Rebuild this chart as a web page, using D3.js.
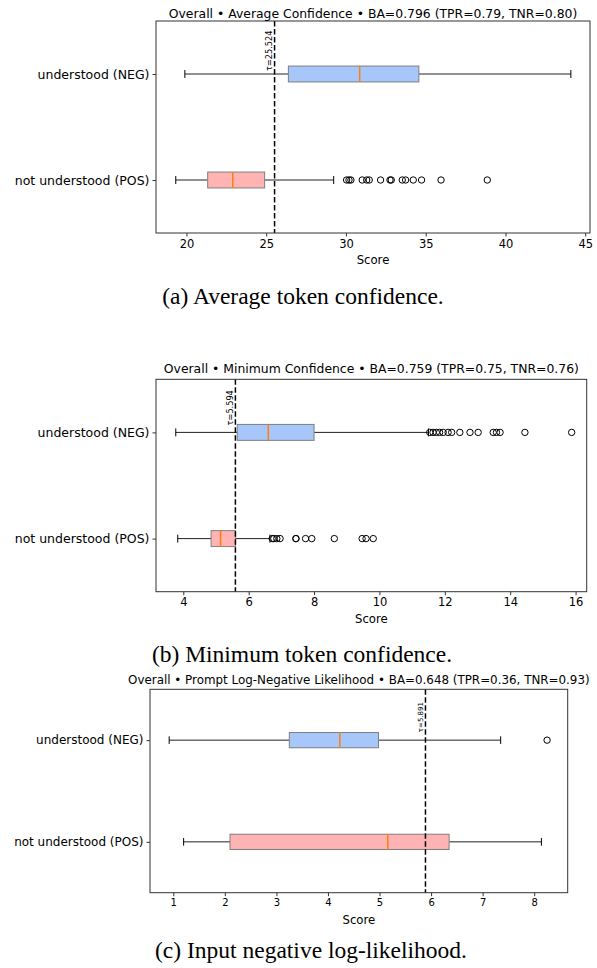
<!DOCTYPE html>
<html><head><meta charset="utf-8">
<script src="https://cdn.jsdelivr.net/npm/d3@7"></script>
<style>body{margin:0;background:#fff}svg{display:block}</style>
</head><body>
<svg id="chart" width="597" height="968"></svg>
<script>
// ---------- data ----------
const categories = ["understood (NEG)", "not understood (POS)"];
const titles = [
  "Overall • Average Confidence • BA=0.796 (TPR=0.79, TNR=0.80)",
  "Overall • Minimum Confidence • BA=0.759 (TPR=0.75, TNR=0.76)",
  "Overall • Prompt Log-Negative Likelihood • BA=0.648 (TPR=0.36, TNR=0.93)"
];
const captions = [
  "(a) Average token confidence.",
  "(b) Minimum token confidence.",
  "(c) Input negative log-likelihood."
];
const xLabel = "Score";

// stats: [whisker low, Q1, median, Q3, whisker high]
const avgNegStats = [19.9, 26.39, 30.86, 34.57, 44.1];
const avgPosStats = [19.33, 21.33, 22.9, 24.9, 29.23];
const avgNegOutliers = [];
const avgPosOutliers = [30.04, 30.19, 30.31, 31.02, 31.3, 31.46, 32.17, 32.76, 32.84, 33.53, 33.74, 34.22, 34.74, 35.96, 38.86];
const avgTau = 25.524;
const avgTicks = [20, 25, 30, 35, 40, 45];

const minNegStats = [3.77, 5.65, 6.6, 8.0, 11.5];
const minPosStats = [3.83, 4.85, 5.14, 5.6, 6.65];
const minNegOutliers = [11.54, 11.64, 11.74, 11.84, 11.95, 12.1, 12.21, 12.46, 12.77, 13.02, 13.48, 13.58, 13.69, 14.45, 15.88];
const minPosOutliers = [6.72, 6.77, 6.86, 6.96, 7.44, 7.45, 7.74, 7.93, 8.62, 9.47, 9.59, 9.81];
const minTau = 5.594;
const minTicks = [4, 6, 8, 10, 12, 14, 16];

const nllNegStats = [0.92, 3.25, 4.23, 4.98, 7.35];
const nllPosStats = [1.2, 2.1, 5.16, 6.35, 8.14];
const nllNegOutliers = [8.25];
const nllPosOutliers = [];
const nllTau = 5.891;
const nllTicks = [1, 2, 3, 4, 5, 6, 7, 8];

// ---------- layout ----------
const panels = [
  {title: titles[0], caption: captions[0], neg: avgNegStats, pos: avgPosStats, negOut: avgNegOutliers, posOut: avgPosOutliers, tau: avgTau, ticks: avgTicks,
   domain: [18.09, 45.30], frame: {l: 156, r: 590, t: 21, b: 233}, titleY: 17.5, titleFs: 12.4, capX: 303, capY: 304, tauOff: 3, tickFs: 11.5, tauFs: 8.2, yFs: 12.5},
  {title: titles[1], caption: captions[1], neg: minNegStats, pos: minPosStats, negOut: minNegOutliers, posOut: minPosOutliers, tau: minTau, ticks: minTicks,
   domain: [3.165, 16.34], frame: {l: 156, r: 586.7, t: 379.3, b: 591.7}, titleY: 373, titleFs: 12.4, capX: 302, capY: 662, tauOff: 7, tickFs: 11.5, tauFs: 8.2, yFs: 12.5},
  {title: titles[2], caption: captions[2], neg: nllNegStats, pos: nllPosStats, negOut: nllNegOutliers, posOut: nllPosOutliers, tau: nllTau, ticks: nllTicks,
   domain: [0.548, 8.65], frame: {l: 150, r: 567.7, t: 689.3, b: 892.7}, titleY: 684, titleFs: 11.9, capX: 311, capY: 958, tauOff: 8, tickFs: 10, tauFs: 7, yFs: 12}
];

const FONT = "DejaVu Sans, sans-serif";
const svg = d3.select("#chart");

panels.forEach(p => {
  const f = p.frame;
  const x = d3.scaleLinear().domain(p.domain).range([f.l, f.r]);
  const y = d3.scaleLinear().domain([0.5, 2.5]).range([f.b, f.t]);
  const g = svg.append("g");
  const rows = [
    {cat: categories[0], pos: 2, s: p.neg, out: p.negOut, fill: "#a7c7fb"},
    {cat: categories[1], pos: 1, s: p.pos, out: p.posOut, fill: "#ffb3b3"}
  ];
  const halfW = (y(0) - y(0.15)) / 2;
  const capH = halfW / 2;

  rows.forEach(r => {
    const cy = y(r.pos);
    const s = r.s;
    g.append("line").attr("x1", x(s[0])).attr("x2", x(s[1])).attr("y1", cy).attr("y2", cy).attr("stroke", "#222").attr("stroke-width", 1);
    g.append("line").attr("x1", x(s[3])).attr("x2", x(s[4])).attr("y1", cy).attr("y2", cy).attr("stroke", "#222").attr("stroke-width", 1);
    [s[0], s[4]].forEach(v => {
      g.append("line").attr("x1", x(v)).attr("x2", x(v)).attr("y1", cy - capH).attr("y2", cy + capH).attr("stroke", "#000").attr("stroke-width", 1);
    });
    g.append("rect").attr("x", x(s[1])).attr("y", cy - halfW).attr("width", x(s[3]) - x(s[1])).attr("height", 2 * halfW)
      .attr("fill", r.fill).attr("stroke", "#7f7f7f").attr("stroke-width", 1);
    g.append("line").attr("x1", x(s[2])).attr("x2", x(s[2])).attr("y1", cy - halfW).attr("y2", cy + halfW).attr("stroke", "#ff7f0e").attr("stroke-width", 1.5);
    g.selectAll(null).data(r.out).join("circle")
      .attr("cx", d => x(d)).attr("cy", cy).attr("r", 3.2).attr("fill", "none").attr("stroke", "#000").attr("stroke-width", 1);
  });

  g.append("line").attr("x1", x(p.tau)).attr("x2", x(p.tau)).attr("y1", f.t).attr("y2", f.b)
    .attr("stroke", "#000").attr("stroke-width", 1.5).attr("stroke-dasharray", "5.5,2.5");
  g.append("text").attr("transform", `translate(${x(p.tau) - 2.5},${y(2) - p.tauOff}) rotate(-90)`)
    .attr("font-family", FONT).attr("font-size", p.tauFs).attr("fill", "#000").text("τ=" + p.tau.toFixed(3));

  g.append("rect").attr("x", f.l).attr("y", f.t).attr("width", f.r - f.l).attr("height", f.b - f.t)
    .attr("fill", "none").attr("stroke", "#333").attr("stroke-width", 1);

  const xa = g.append("g").attr("transform", `translate(0,${f.b})`)
    .call(d3.axisBottom(x).tickValues(p.ticks).tickFormat(d3.format("d")).tickSize(3.5).tickPadding(3));
  xa.select(".domain").remove();
  xa.selectAll("text").attr("font-family", FONT).attr("font-size", p.tickFs).attr("fill", "#000");
  xa.selectAll("line").attr("stroke", "#333");

  const ya = g.append("g").attr("transform", `translate(${f.l},0)`)
    .call(d3.axisLeft(y).tickValues([2, 1]).tickFormat(d => d === 2 ? categories[0] : categories[1]).tickSize(3.5).tickPadding(3));
  ya.select(".domain").remove();
  ya.selectAll("text").attr("font-family", FONT).attr("font-size", p.yFs).attr("fill", "#000");
  ya.selectAll("line").attr("stroke", "#333");

  g.append("text").attr("x", (f.l + f.r) / 2).attr("y", f.b + 31).attr("text-anchor", "middle")
    .attr("font-family", FONT).attr("font-size", 11.7).attr("fill", "#000").text(xLabel);

  g.append("text").attr("x", (f.l + f.r) / 2).attr("y", p.titleY).attr("text-anchor", "middle")
    .attr("font-family", FONT).attr("font-size", p.titleFs).attr("fill", "#000").text(p.title);

  svg.append("text").attr("x", p.capX).attr("y", p.capY).attr("text-anchor", "middle")
    .attr("font-family", "Liberation Serif, Times New Roman, serif").attr("font-size", 23.5).attr("fill", "#000").text(p.caption);
});
</script>
</body></html>
